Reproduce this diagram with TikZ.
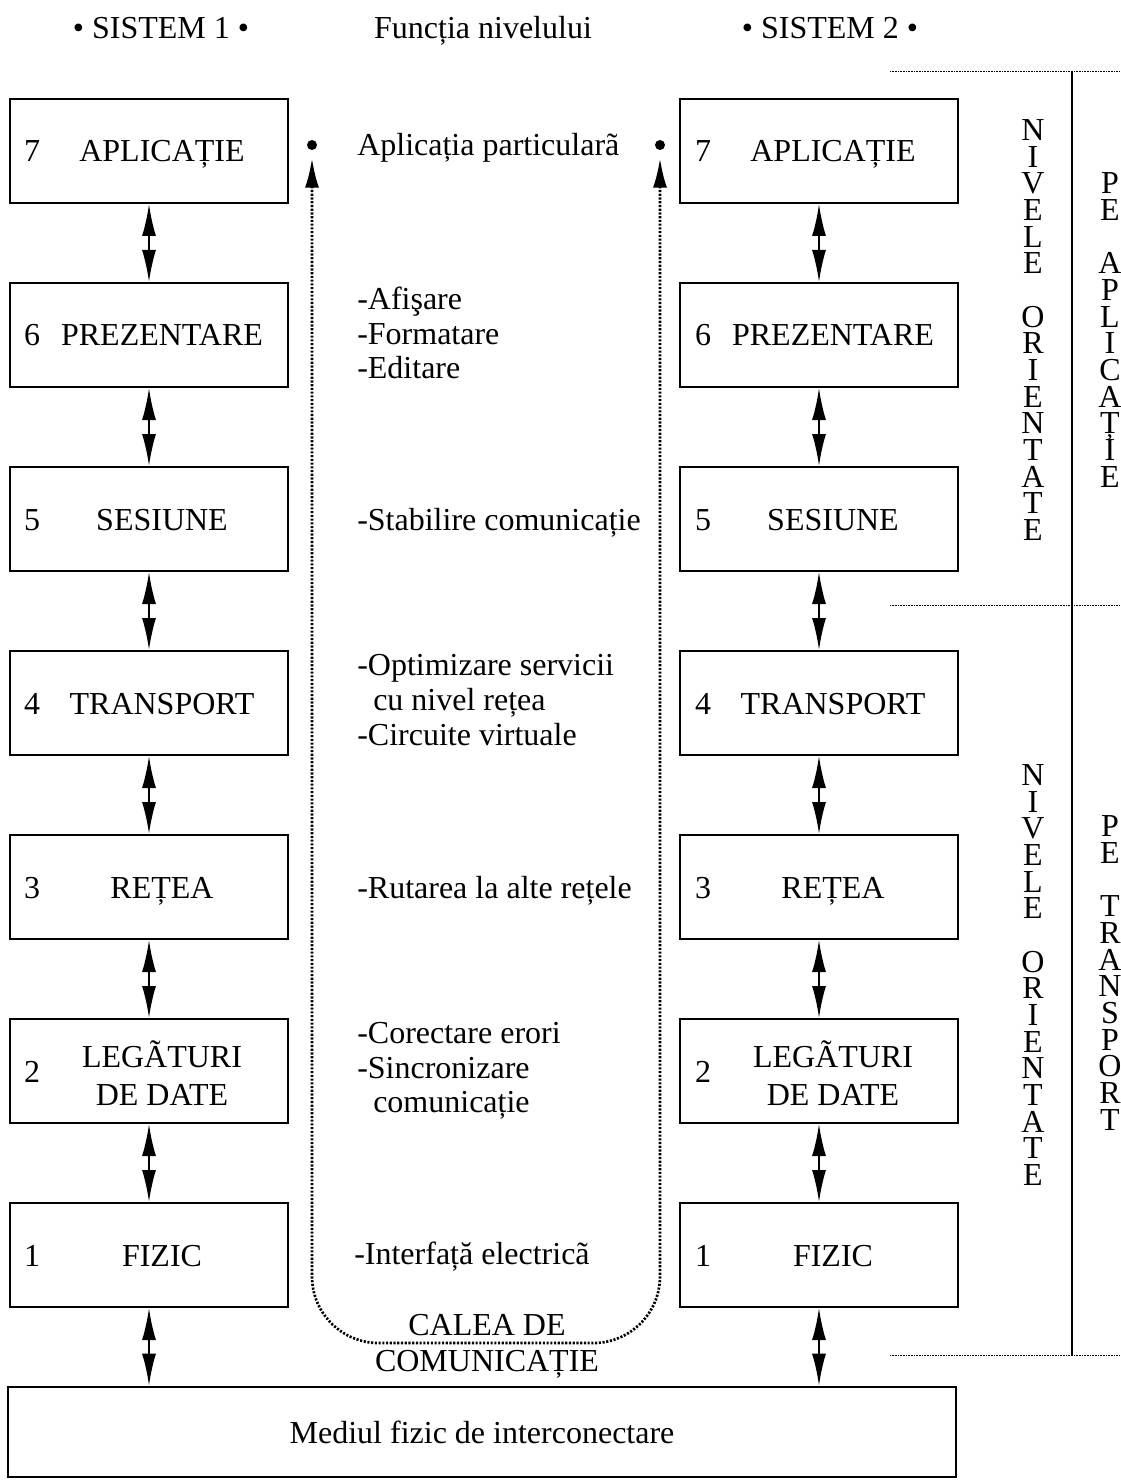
\documentclass[tikz,border=0pt]{standalone}
\usepackage{fontspec}
\setmainfont{Liberation Serif}
\usetikzlibrary{arrows.meta}

\begin{document}
\begin{tikzpicture}[x=0.75pt, y=-0.75pt, font=\fontsize{24}{28.5}\selectfont,
box/.style={draw, line width=1.5pt, minimum width=208pt, minimum height=78pt, inner sep=0pt},
lbl/.style={anchor=base, inner sep=0pt},
txt/.style={align=center, inner sep=0pt},
func/.style={anchor=west, align=left, inner sep=0pt, font=\fontsize{24}{26}\selectfont},
dbl/.style={{Latex[length=24pt,width=10.5pt]}-{Latex[length=24pt,width=10.5pt]}, line width=1.5pt},
calea/.style={{Latex[length=22pt,width=10.5pt]}-{Latex[length=22pt,width=10.5pt]}, line width=2pt, dash pattern=on 1.6pt off 1.2pt, rounded corners=50pt, shorten <=6pt, shorten >=6pt},
sep/.style={line width=0.6pt, dash pattern=on 0.6pt off 0.6pt},
stack/.style={align=center, inner sep=0pt, font=\fontsize{24}{20}\selectfont},
dot/.style={circle, fill, inner sep=0pt, minimum size=7.5pt}]
\useasboundingbox (0,0) rectangle (1120,1483);

% header
\node [lbl] (s1) at (161,39) {\textbullet\ SISTEM 1 \textbullet};
\node [lbl] (fn) at (483,39) {Funcția nivelului};
\node [lbl] (s2) at (830,39) {\textbullet\ SISTEM 2 \textbullet};

% levels of sistem 1
\node [box] (a7) at (149,151) {};
\node [lbl] at (32,162) {7};
\node [lbl] at (162,162) {APLICAȚIE};
\node [box] (a6) at (149,335) {};
\node [lbl] at (32,346) {6};
\node [lbl] at (162,346) {PREZENTARE};
\node [box] (a5) at (149,519) {};
\node [lbl] at (32,530) {5};
\node [lbl] at (162,530) {SESIUNE};
\node [box] (a4) at (149,703) {};
\node [lbl] at (32,714) {4};
\node [lbl] at (162,714) {TRANSPORT};
\node [box] (a3) at (149,887) {};
\node [lbl] at (32,898) {3};
\node [lbl] at (162,898) {REȚEA};
\node [box] (a2) at (149,1071) {};
\node [lbl] at (32,1082) {2};
\node [txt] at (162,1073) {LEGÃTURI\\DE DATE};
\node [box] (a1) at (149,1255) {};
\node [lbl] at (32,1266) {1};
\node [lbl] at (162,1266) {FIZIC};

% levels of sistem 2
\node [box] (b7) at (819,151) {};
\node [lbl] at (703,162) {7};
\node [lbl] at (833,162) {APLICAȚIE};
\node [box] (b6) at (819,335) {};
\node [lbl] at (703,346) {6};
\node [lbl] at (833,346) {PREZENTARE};
\node [box] (b5) at (819,519) {};
\node [lbl] at (703,530) {5};
\node [lbl] at (833,530) {SESIUNE};
\node [box] (b4) at (819,703) {};
\node [lbl] at (703,714) {4};
\node [lbl] at (833,714) {TRANSPORT};
\node [box] (b3) at (819,887) {};
\node [lbl] at (703,898) {3};
\node [lbl] at (833,898) {REȚEA};
\node [box] (b2) at (819,1071) {};
\node [lbl] at (703,1082) {2};
\node [txt] at (833,1073) {LEGÃTURI\\DE DATE};
\node [box] (b1) at (819,1255) {};
\node [lbl] at (703,1266) {1};
\node [lbl] at (833,1266) {FIZIC};

% physical medium
\node [box, minimum width=711pt, minimum height=68pt] (med) at (482,1432) {Mediul fizic de interconectare};

% arrows between levels
\draw [dbl] (a7) -- (a6);
\draw [dbl] (a6) -- (a5);
\draw [dbl] (a5) -- (a4);
\draw [dbl] (a4) -- (a3);
\draw [dbl] (a3) -- (a2);
\draw [dbl] (a2) -- (a1);
\draw [dbl] (a1) -- (a1 |- med.north);
\draw [dbl] (b7) -- (b6);
\draw [dbl] (b6) -- (b5);
\draw [dbl] (b5) -- (b4);
\draw [dbl] (b4) -- (b3);
\draw [dbl] (b3) -- (b2);
\draw [dbl] (b2) -- (b1);
\draw [dbl] (b1) -- (b1 |- med.north);

% functions of the levels
\node [lbl, anchor=base west] (f7) at (357,156) {Aplicația particularã};
\node [func] (f6) at (357,333) {-Afişare\\-Formatare\\-Editare};
\node [lbl, anchor=base west] (f5) at (357,530) {-Stabilire comunicație};
\node [func] (f4) at (357,700) {-Optimizare servicii\\\hspace*{12pt}cu nivel rețea\\-Circuite virtuale};
\node [lbl, anchor=base west] (f3) at (357,898) {-Rutarea la alte rețele};
\node [func] (f2) at (357,1071) {-Corectare erori\\-Sincronizare\\\hspace*{12pt}comunicație};
\node [lbl, anchor=base west] (f1) at (354,1264) {-Interfață electricã};

% communication path
\node [dot] (d1) at (312,145) {};
\node [dot] (d2) at (660,145) {};
\coordinate (cb) at (487,1343);
\draw [calea] (d1) |- (cb) -| (d2);
\node [txt, font=\fontsize{24}{27}\selectfont] (cl) at (487,1346) {CALEA DE\\COMUNICAȚIE};

% groups of levels
\draw [sep] (890,71) -- (1120,71);
\draw [sep] (890,605) -- (1120,605);
\draw [sep] (890,1355) -- (1120,1355);
\draw [line width=1.5pt] (1072,71) -- (1072,1355);
\node [stack] (no1) at (1033,330) {N\\I\\V\\E\\L\\E\\[20pt]O\\R\\I\\E\\N\\T\\A\\T\\E};
\node [stack] (pa) at (1110,330) {P\\E\\[20pt]A\\P\\L\\I\\C\\A\\\smash{Ț}\\I\\E};
\node [stack] (no2) at (1033,975) {N\\I\\V\\E\\L\\E\\[20pt]O\\R\\I\\E\\N\\T\\A\\T\\E};
\node [stack] (pt) at (1110,973) {P\\E\\[20pt]T\\R\\A\\N\\S\\P\\O\\R\\T};
\end{tikzpicture}
\end{document}
